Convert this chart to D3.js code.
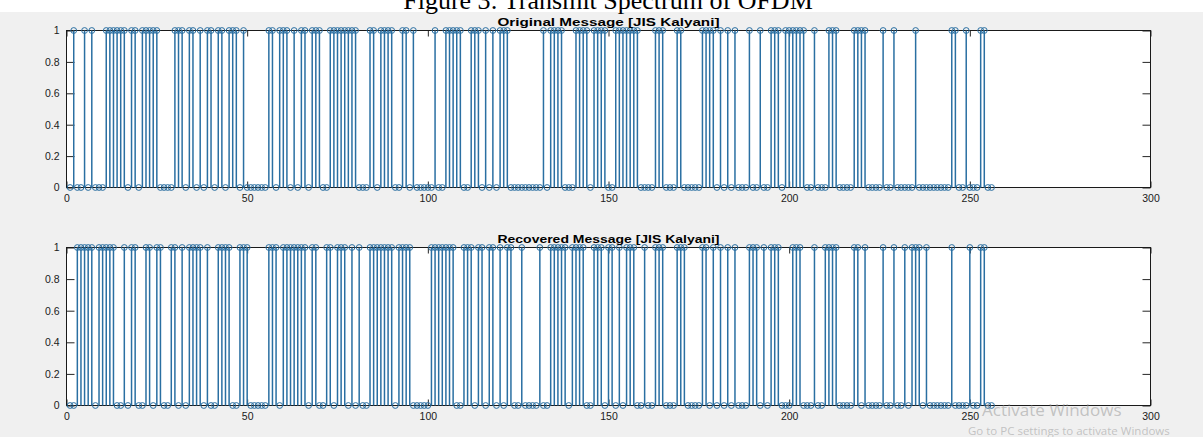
<!DOCTYPE html>
<html>
<head>
<meta charset="utf-8">
<script src="https://cdn.jsdelivr.net/npm/d3@7"></script>
<style>
  html, body { margin: 0; padding: 0; background: #ffffff; }
  svg { display: block; }
</style>
</head>
<body>
<svg id="chart" width="1203" height="437"></svg>
<script>
// Bit streams, 256 bits each, written 32 bits per row.
const originalRows = [
  "01001010001111110110111110000111",
  "01101011011011101000000110111010",
  "11011100111111110001101111001101",
  "00000100111110011101010111000000",
  "00010111100011110111100111111100",
  "00111000110000011110101010001001",
  "00111011111100100011100001111000",
  "01001000001000000000110010001100"
];
const recoveredRows = [
  "00111110111110010110011011001101",
  "01111010011110011100000111011111",
  "11011001101110101001111111011110",
  "00001111111001110110110101100100",
  "00100111110111100111011010111001",
  "00111000111000011010101010001110",
  "10111000111000100111100001101000",
  "01001001011101000000100001001100"
];

const xTicks = [0, 50, 100, 150, 200, 250, 300];
const yTicks = [0, 0.2, 0.4, 0.6, 0.8, 1];
const yTickLabels = ["0", "0.2", "0.4", "0.6", "0.8", "1"];
const panelTitles = ["Original Message [JIS Kalyani]", "Recovered Message [JIS Kalyani]"];
const pageTitle = "Figure 3: Transmit Spectrum of OFDM";
const watermarkLines = ["Activate Windows", "Go to PC settings to activate Windows"];

// sample index n = 1..256, value 0/1
const toSeries = rows => rows.join("").split("").map((b, i) => ({ n: i + 1, v: +b }));
const series = [toSeries(originalRows), toSeries(recoveredRows)];

const svg = d3.select("#chart");
const W = 1203, H = 437;

// figure window background below the document caption
svg.append("rect").attr("x", 0).attr("y", 0).attr("width", W).attr("height", H).attr("fill", "#ffffff");
svg.append("rect").attr("x", 0).attr("y", 12).attr("width", W).attr("height", H - 12).attr("fill", "#f0f0f0");

// document caption, clipped at the top edge
svg.append("text")
  .attr("x", 608).attr("y", 9)
  .attr("text-anchor", "middle")
  .attr("font-family", "'Liberation Serif', 'Times New Roman', serif")
  .attr("font-size", 26)
  .attr("fill", "#000")
  .text(pageTitle);

const left = 66.5, right = 1150.5;
const panels = [
  { top: 30.5, bottom: 187.5 },
  { top: 247.5, bottom: 405.5 }
];

const x = d3.scaleLinear().domain([0, 300]).range([left, right]);
const stemColor = "#2a6fa2";
const font = "'Liberation Sans', Arial, Helvetica, sans-serif";

panels.forEach((p, k) => {
  const y = d3.scaleLinear().domain([0, 1]).range([p.bottom, p.top]);
  const g = svg.append("g");

  // plot area
  g.append("rect")
    .attr("x", left).attr("y", p.top)
    .attr("width", right - left).attr("height", p.bottom - p.top)
    .attr("fill", "#ffffff");

  // ticks pointing inward on all four sides
  const axB = g.append("g").attr("transform", `translate(0,${p.bottom})`)
    .call(d3.axisBottom(x).tickValues(xTicks).tickSizeInner(-6).tickSizeOuter(0).tickPadding(7).tickFormat(d3.format("d")));
  const axT = g.append("g").attr("transform", `translate(0,${p.top})`)
    .call(d3.axisTop(x).tickValues(xTicks).tickSizeInner(-6).tickSizeOuter(0).tickFormat(""));
  const axL = g.append("g").attr("transform", `translate(${left},0)`)
    .call(d3.axisLeft(y).tickValues(yTicks).tickSizeInner(-8).tickSizeOuter(0).tickPadding(7)
      .tickFormat((d, i) => yTickLabels[i]));
  const axR = g.append("g").attr("transform", `translate(${right},0)`)
    .call(d3.axisRight(y).tickValues(yTicks).tickSizeInner(-8).tickSizeOuter(0).tickFormat(""));

  [axB, axT, axL, axR].forEach(a => {
    a.select(".domain").remove();
    a.selectAll("line").attr("stroke", "#262626");
    a.selectAll("text").attr("font-family", font).attr("font-size", 10.5).attr("fill", "#1a1a1a");
  });

  // box
  g.append("rect")
    .attr("x", left).attr("y", p.top)
    .attr("width", right - left).attr("height", p.bottom - p.top)
    .attr("fill", "none").attr("stroke", "#1a1a1a").attr("stroke-width", 1);

  // stems
  g.append("g").selectAll("line")
    .data(series[k].filter(d => d.v !== 0))
    .join("line")
    .attr("x1", d => x(d.n)).attr("x2", d => x(d.n))
    .attr("y1", y(0)).attr("y2", d => y(d.v))
    .attr("stroke", stemColor).attr("stroke-width", 1.5);

  // open circle markers
  g.append("g").selectAll("circle")
    .data(series[k])
    .join("circle")
    .attr("cx", d => x(d.n)).attr("cy", d => y(d.v))
    .attr("r", 2.9)
    .attr("fill", "none")
    .attr("stroke", stemColor).attr("stroke-width", 1);

  // panel title
  g.append("text")
    .attr("x", (left + right) / 2).attr("y", p.top - 5)
    .attr("text-anchor", "middle")
    .attr("font-family", font).attr("font-weight", "bold")
    .attr("font-size", 11)
    .attr("textLength", 222).attr("lengthAdjust", "spacingAndGlyphs")
    .attr("fill", "#000")
    .text(panelTitles[k]);
});

// operating-system watermark over the lower right corner
svg.append("text")
  .attr("x", 982).attr("y", 416)
  .attr("font-family", "'Open Sans', sans-serif").attr("font-size", 17)
  .attr("fill", "#9a9a9a").attr("fill-opacity", 0.55)
  .text(watermarkLines[0]);
svg.append("text")
  .attr("x", 968).attr("y", 435)
  .attr("font-family", "'Open Sans', sans-serif").attr("font-size", 11.5)
  .attr("fill", "#9a9a9a").attr("fill-opacity", 0.55)
  .text(watermarkLines[1]);
</script>
</body>
</html>
